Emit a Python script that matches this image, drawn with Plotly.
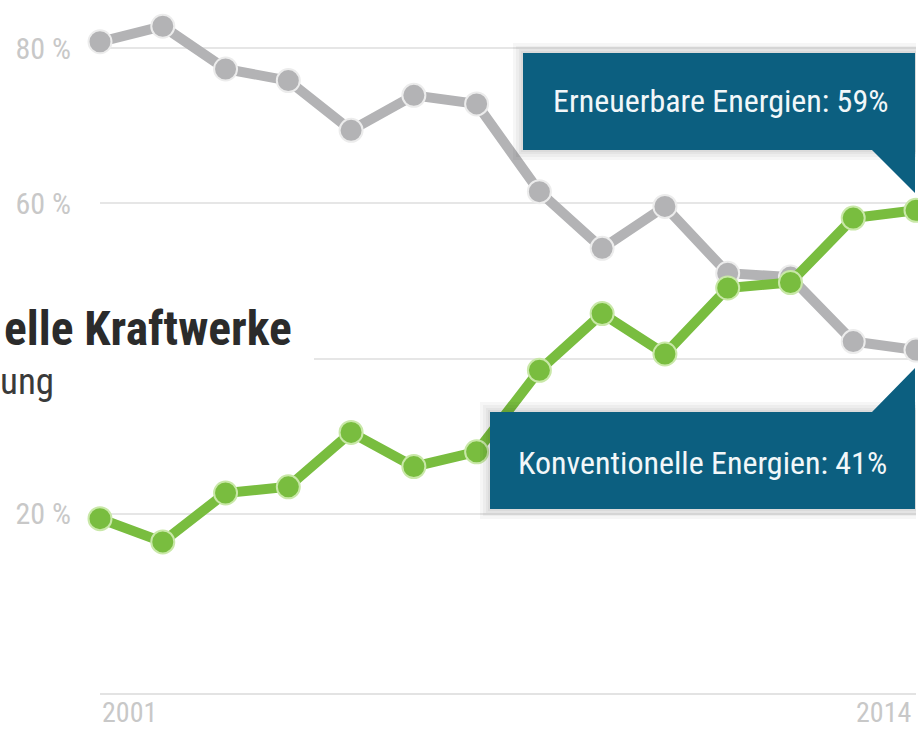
import plotly.graph_objects as go

# ---------------- data ----------------
years = list(range(2001, 2015))
konventionell = [80.8, 82.8, 77.3, 75.8, 69.4, 73.9, 72.8, 61.5, 54.2, 59.6, 51.0, 50.5, 42.2, 41.1]
erneuerbar = [19.4, 16.4, 22.7, 23.5, 30.5, 26.1, 28.0, 38.5, 45.8, 40.6, 49.1, 49.8, 58.1, 59.1]
y_tickvals = [20, 40, 60, 80]
y_ticktext = ["20 %", "", "60 %", "80 %"]
x_ticklabels = ["2001", "2014"]
title_text = "elle Kraftwerke"
subtitle_text = "ung"
label_ern = "Erneuerbare Energien: 59%"
label_konv = "Konventionelle Energien: 41%"

# ---------------- layout constants ----------------
W, H = 918, 730
ML, MR, MT, MB = 100, 2, 0, 37
PW, PH = W - ML - MR, H - MT - MB
X0, X1 = years[0], years[-1]
Y_LO, Y_HI = -3.05, 86.18

def xd(px):
    return X0 + (px - ML) / PW * (X1 - X0)

def yd(py):
    return Y_HI - (py - MT) / PH * (Y_HI - Y_LO)

def xp(px):
    return (px - ML) / PW

def yp(py):
    return 1 - (py - MT) / PH

FONT = "Roboto Condensed, Roboto, Liberation Sans Narrow, sans-serif"
GRAY = "#b3b3b5"
GREEN = "#79bd3f"
BOX = "#0c5f80"

fig = go.Figure()
fig.add_trace(go.Scatter(
    x=years, y=konventionell, mode="lines+markers", name="Konventionelle Energien",
    line=dict(color=GRAY, width=10),
    marker=dict(size=23, color=GRAY, line=dict(color="#ececec", width=2)),
    cliponaxis=False, hoverinfo="x+y",
))
fig.add_trace(go.Scatter(
    x=years, y=erneuerbar, mode="lines+markers", name="Erneuerbare Energien",
    line=dict(color=GREEN, width=10),
    marker=dict(size=23, color=GREEN, line=dict(color="#c9e8a8", width=2)),
    cliponaxis=False, hoverinfo="x+y",
))

def poly(points):
    return "M " + " L ".join(f"{xd(a)},{yd(b)}" for a, b in points) + " Z"

shapes = []
# white block behind title (covers gridline)
shapes.append(dict(type="rect", xref="paper", yref="paper", x0=xp(0), x1=xp(314),
                   y0=yp(405), y1=yp(298), fillcolor="white", line=dict(width=0), layer="above"))

tip1 = 193
tip2 = 368
box1 = dict(l=523, r=915, t=53, b=150, poly=[(523, 53), (915, 53), (915, tip1), (872, 150), (523, 150)])
box2 = dict(l=490, r=915, t=412, b=509, poly=[(490, 412), (872, 412), (915, tip2), (915, 509), (490, 509)])
for box in (box1, box2):
    for g in (10, 7, 4, 2):
        shapes.append(dict(type="path", xref="x", yref="y",
                           path=poly([(box["l"] - g, box["t"] - g), (box["r"] + g, box["t"] - g),
                                      (box["r"] + g, box["b"] + g), (box["l"] - g, box["b"] + g)]),
                           fillcolor="rgba(0,0,0,0.035)", line=dict(width=0), layer="above"))
    shapes.append(dict(type="path", xref="x", yref="y", path=poly(box["poly"]),
                       fillcolor=BOX, line=dict(width=0), layer="above"))

annotations = [
    dict(text=label_ern, x=xd(720), y=yd(101), xref="x", yref="y", showarrow=False,
         font=dict(family=FONT, size=32, color="#f2f7f9"), xanchor="center", yanchor="middle"),
    dict(text=label_konv, x=xd(702), y=yd(463), xref="x", yref="y", showarrow=False,
         font=dict(family=FONT, size=32, color="#f2f7f9"), xanchor="center", yanchor="middle"),
    dict(text="<b>" + title_text + "</b>", x=xp(294), y=yp(329), xref="paper", yref="paper",
         showarrow=False, font=dict(family=FONT, size=47.5, color="#2b2b2b"),
         xanchor="right", yanchor="middle"),
    dict(text=subtitle_text, x=xp(56), y=yp(382), xref="paper", yref="paper",
         showarrow=False, font=dict(family=FONT, size=37, color="#3a3a3a"),
         xanchor="right", yanchor="middle"),
    dict(text=x_ticklabels[0], x=years[0], y=yp(731), xref="x", yref="paper",
         showarrow=False, font=dict(family=FONT, size=28, color="#c8c8c8"),
         xanchor="left", yanchor="bottom"),
    dict(text=x_ticklabels[1], x=xd(913), y=yp(731), xref="x", yref="paper",
         showarrow=False, font=dict(family=FONT, size=28, color="#c8c8c8"),
         xanchor="right", yanchor="bottom"),
]

fig.update_layout(
    width=W, height=H,
    margin=dict(l=ML, r=MR, t=MT, b=MB, pad=0),
    paper_bgcolor="white", plot_bgcolor="white",
    showlegend=False,
    shapes=shapes,
    annotations=annotations,
    xaxis=dict(range=[X0, X1], showgrid=False, zeroline=False, showticklabels=False,
               showline=True, linecolor="#e3e3e3", linewidth=2, ticks=""),
    yaxis=dict(range=[Y_LO, Y_HI], tickvals=y_tickvals, ticktext=y_ticktext,
               showgrid=True, gridcolor="#e6e6e6", gridwidth=2, zeroline=False,
               showline=False, ticks="", ticklabelstandoff=28,
               tickfont=dict(family=FONT, size=30, color="#c8c8c8")),
)

fig.write_html("out.html")
